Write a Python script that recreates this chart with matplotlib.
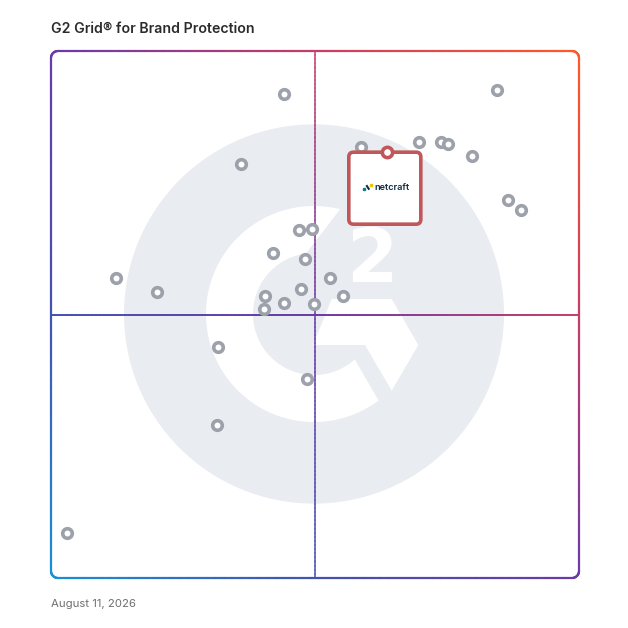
import numpy as np
import matplotlib
matplotlib.use("Agg")
import matplotlib.pyplot as plt
from matplotlib.patches import Circle, Polygon, FancyBboxPatch
from matplotlib.collections import LineCollection
from matplotlib.colors import LinearSegmentedColormap

plt.rcParams.update({"font.family": ["Inter", "DejaVu Sans"]})

# vendor positions on the grid (0-100: market presence, satisfaction)
market_presence = [35.9, 58.7, 69.7, 73.8, 75.2, 79.7, 86.5, 89.0, 47.0, 49.4,
                   42.0, 48.2, 12.4, 20.1, 52.8, 47.4, 55.3, 40.5, 44.1, 49.8,
                   40.3, 31.7, 48.5, 31.4, 44.1, 84.4, 3.0]
satisfaction = [78.6, 81.8, 82.7, 82.7, 82.4, 80.1, 71.7, 69.8, 66.0, 66.2,
                61.6, 60.5, 56.9, 54.3, 56.9, 54.9, 53.5, 53.6, 52.1, 51.9,
                51.1, 43.8, 37.7, 29.0, 91.8, 92.6, 8.5]
highlight_name = "netcraft"
highlight_xy = (63.6, 80.8)

TITLE = "G2 Grid\u00ae for Brand Protection"
DATE = "August 11, 2026"

DOT = "#9ca1ab"
RED = "#c0575a"
LOGO_BG = "#e9ecf0"

grad = LinearSegmentedColormap.from_list(
    "g2", [(0, "#1a8fd6"), (0.25, "#4452b0"), (0.5, "#6a3aa8"),
           (0.75, "#c73d68"), (1, "#ff5a28")])

W = H = 628
fig = plt.figure(figsize=(W / 100, H / 100), dpi=100)
# frame: x 51..579 px, y 51..578 px
L, T, R, B = 51, 51, 579, 578
ax = fig.add_axes([L / W, (H - B) / H, (R - L) / W, (B - T) / H])
ax.set_xlim(0, 100); ax.set_ylim(0, 100); ax.axis("off")


def px(x):
    return (x - L) / (R - L) * 100


def py(y):
    return (B - y) / (B - T) * 100


sx = 100 / (R - L)   # data units per pixel
sy = 100 / (B - T)

# ---- G2 watermark logo ----
cx, cy = 314, 314
ax.add_patch(Circle((px(cx), py(cy)), 190 * sx, color=LOGO_BG, zorder=1, lw=0))


def ring(a_out0, a_out1, a_in0, a_in1, r0=61, r1=108):
    to = np.radians(np.linspace(a_out0, a_out1, 200))
    ti = np.radians(np.linspace(a_in1, a_in0, 200))
    pts = [(px(cx + r1 * np.cos(t)), py(cy - r1 * np.sin(t))) for t in to]
    pts += [(px(cx + r0 * np.cos(t)), py(cy - r0 * np.sin(t))) for t in ti]
    return pts


ax.add_patch(Polygon(ring(76, 306.7, 97.5, 312), closed=True, color="white", lw=0, zorder=1.1))
chev = [(331.7, 299), (391.7, 299), (418.3, 345), (391.7, 390.7), (365, 345), (313, 345)]
ax.add_patch(Polygon([(px(a), py(b)) for a, b in chev], closed=True, color="white", lw=0, zorder=1.1))
ax.text(px(372), py(282), "2", color="white", fontsize=53, fontweight="bold",
        family="DejaVu Sans", ha="center", va="baseline", zorder=1.2)


# ---- gradient lines ----
def grad_line(xs, ys, lw, alpha, clip=False):
    pts = np.column_stack([xs, ys])
    segs = np.stack([pts[:-1], pts[1:]], axis=1)
    mid = segs.mean(axis=1)
    t = (mid[:, 0] + mid[:, 1]) / 200
    lc = LineCollection(segs, colors=grad(t), linewidths=lw, alpha=alpha,
                        capstyle="round", zorder=2, clip_on=clip)
    ax.add_collection(lc)


n = 400
grad_line(np.linspace(0, 100, n), np.full(n, py(315)), 1.4, 0.95)
grad_line(np.full(n, px(315)), np.linspace(0, 100, n), 1.4, 0.6)

# rounded border
r = 7
bx, by = [], []
corners = [((R - r, T + r), 0, 90), ((L + r, T + r), 90, 180),
           ((L + r, B - r), 180, 270), ((R - r, B - r), 270, 360)]
for (ccx, ccy), a0, a1 in corners:
    a = np.radians(np.linspace(a0, a1, 20))
    bx += list(ccx + r * np.cos(a)); by += list(ccy - r * np.sin(a))
bx.append(bx[0]); by.append(by[0])
fx, fy = [], []
for i in range(len(bx) - 1):
    k = 60 if abs(bx[i + 1] - bx[i]) + abs(by[i + 1] - by[i]) > 20 else 2
    fx += list(np.linspace(bx[i], bx[i + 1], k)[:-1])
    fy += list(np.linspace(by[i], by[i + 1], k)[:-1])
fx.append(fx[0]); fy.append(fy[0])
grad_line(px(np.array(fx)), py(np.array(fy)), 1.6, 1.0)

# ---- vendor dots ----
ax.plot(market_presence, satisfaction, "o", ms=6.9, mfc="white", mec=DOT,
        mew=2.6, ls="none", zorder=3)

# ---- highlighted vendor card ----
hx, hy = highlight_xy
bw, bh = 72 * sx, 72 * sy
ax.add_patch(FancyBboxPatch((hx - 38 * sx, hy - bh), bw, bh,
                            boxstyle="round,pad=0,rounding_size=0.9",
                            fc="white", ec=RED, lw=2.6, zorder=4))
ax.plot([hx], [hy], "o", ms=7.4, mfc="white", mec=RED, mew=2.6, zorder=5)
ax.text(hx + 5 * sx, hy - 35 * sy, highlight_name, fontsize=6.6, fontweight="semibold",
        color="#0d2b45", ha="center", va="center", zorder=5)
# tiny logo mark
ax.plot([hx - 23 * sx], [hy - 37 * sy], "s", ms=2.0, color="#127a8a", zorder=5)
ax.plot([hx - 20.5 * sx, hx - 17.5 * sx], [hy - 33 * sy, hy - 37.5 * sy], color="#0d2b45",
        lw=1.5, zorder=5, solid_capstyle="butt")
ax.plot([hx - 15.5 * sx], [hy - 32.5 * sy], "s", ms=2.0, color="#f3c300", zorder=5)

# ---- texts ----
fig.text(L / W, 1 - 29 / H, TITLE, fontsize=10.2, fontweight="semibold",
         color="#2b2b2b", ha="left", va="center")
fig.text(L / W, 1 - 604 / H, DATE, fontsize=8.2, color="#6f6f6f",
         ha="left", va="center")

fig.savefig("out.png", dpi=100)
